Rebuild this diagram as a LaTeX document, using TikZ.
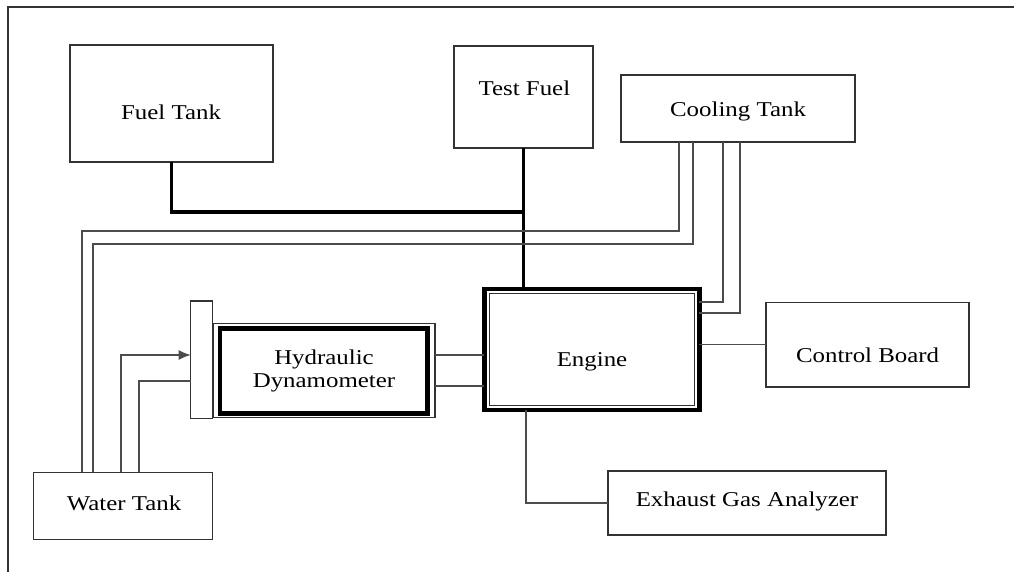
\documentclass[tikz,border=0pt]{standalone}
\usepackage{fontspec}
\setmainfont{Liberation Serif}[FakeStretch=1.18]
\usetikzlibrary{arrows.meta, positioning}

\begin{document}
\begin{tikzpicture}[
            box/.style={rectangle, draw=black!80, line width=0.9pt, inner sep=0pt, outer sep=0pt},
            txt/.style={inner sep=0pt, font=\fontsize{15}{16.3}\selectfont, text height=10.5pt, text depth=0pt},
            pipe/.style={draw=black!70, line width=0.9pt},
            fuelline/.style={draw=black, line width=2.8pt}
        ]
        \useasboundingbox (0,0) rectangle (25.35,14.3);

        % frame
        \draw[black!80, line width=0.9pt] (0.2,0) -- (0.2,14.125) -- (25.35,14.125);

        % boxes
        \node[box, minimum width=5.075cm, minimum height=2.925cm] (fueltank) at (4.2875,11.7125) {};
        \node[box, minimum width=3.475cm, minimum height=2.55cm] (testfuel) at (13.0875,11.875) {};
        \node[box, minimum width=5.85cm, minimum height=1.675cm] (cooling) at (18.45,11.5875) {};
        \node[box, draw=black, line width=3.5pt, minimum width=5.38cm, minimum height=3.025cm] (engine) at (14.796,5.5625) {};
        \node[box, minimum width=5.54cm, minimum height=2.36cm] (dyno) at (8.104,5.0375) {};
        \node[box, minimum width=0.55cm, minimum height=2.93cm] (plate) at (5.0425,5.309) {};
        \node[box, minimum width=5.075cm, minimum height=2.11cm] (ctrl) at (21.6875,5.679) {};
        \node[box, minimum width=6.95cm, minimum height=1.6cm] (exhaust) at (18.675,1.725) {};
        \node[box, minimum width=4.475cm, minimum height=1.675cm] (water) at (3.07,1.655) {};

        % inner borders
        \draw[black!80, line width=0.8pt] ([shift={(0.13,0.12)}]engine.south west) rectangle ([shift={(-0.13,-0.12)}]engine.north east);
        \draw[black, line width=3.2pt] ([shift={(0.16,0.1)}]dyno.south west) rectangle ([shift={(-0.19,-0.135)}]dyno.north east);

        % labels
        \node[txt] (fueltankT) at (4.275,11.4875) {Fuel Tank};
        \node[txt] (testfuelT) at (13.11,12.1) {Test Fuel};
        \node[txt] (coolingT) at (18.45,11.575) {Cooling Tank};
        \node[txt] (engineT) at (14.8,5.325) {Engine};
        \node[inner sep=0pt, align=center, font=\fontsize{15}{16.3}\selectfont] (dynoT) at (8.1,5.03) {Hydraulic\\Dynamometer};
        \node[txt] (ctrlT) at (21.69,5.4125) {Control Board};
        \node[txt] (exhaustT) at (18.675,1.825) {Exhaust Gas Analyzer};
        \node[txt] (waterT) at (3.1,1.733) {Water Tank};

        % fuel supply
        \coordinate (tee) at (testfuel.south |- 0,9.0);
        \draw[fuelline] (fueltank.south) |- (tee);
        \draw[fuelline] (testfuel.south) -- (testfuel.south |- engine.north);

        % cooling water
        \draw[pipe] (16.975,0 |- cooling.south) |- (2.05,8.525) -- (2.05,0 |- water.north);
        \draw[pipe] (17.325,0 |- cooling.south) |- (2.325,8.2) -- (2.325,0 |- water.north);
        \draw[pipe] (18.075,0 |- cooling.south) |- (engine.east |- 0,6.75);
        \draw[pipe] (18.5,0 |- cooling.south) |- (engine.east |- 0,6.475);

        % engine connections
        \draw[pipe] (engine.east |- ctrl.west) -- (ctrl.west);
        \draw[pipe] (dyno.east |- 0,5.425) -- (engine.west |- 0,5.425);
        \draw[pipe] (dyno.east |- 0,4.65) -- (engine.west |- 0,4.65);
        \draw[pipe] (13.15,0 |- engine.south) |- (exhaust.west);

        % dynamometer water
        \draw[pipe, -{Latex[length=0.3cm, width=0.25cm]}] (3.025,0 |- water.north) |- (plate.west |- 0,5.425);
        \draw[pipe] (3.475,0 |- water.north) |- (plate.west |- 0,4.775);

        \end{tikzpicture}
\end{document}
